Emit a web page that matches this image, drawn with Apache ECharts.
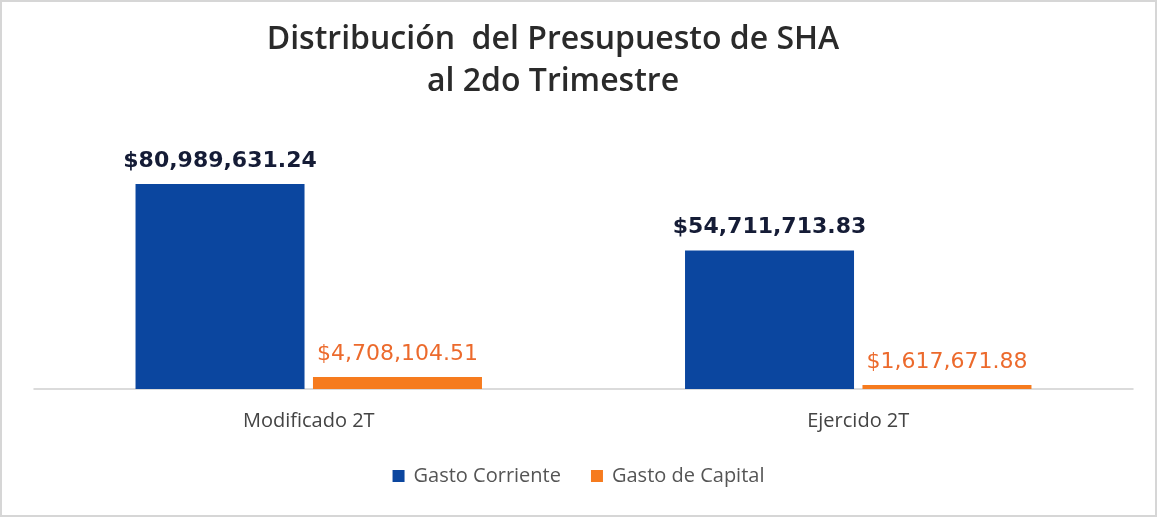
<!DOCTYPE html>
<html>
<head>
<meta charset="utf-8">
<script src="https://cdn.jsdelivr.net/npm/echarts@6/dist/echarts.min.js"></script>
<style>
  html, body { margin: 0; padding: 0; background: #fff; }
  #chart { width: 1157px; height: 517px; box-sizing: border-box; border: 2px solid #d6d6d6; }
</style>
</head>
<body>
<div id="chart"></div>
<script>
const categories = ['Modificado 2T', 'Ejercido 2T']
const gastoCorriente = [80989631.24, 54711713.83]
const gastoCapital = [4708104.51, 1617671.88]

const money = v => '$' + v.toLocaleString('en-US', { minimumFractionDigits: 2, maximumFractionDigits: 2 })

const chart = echarts.init(document.getElementById('chart'))
chart.setOption({
  title: {
    text: 'Distribución  del Presupuesto de SHA\nal 2do Trimestre',
    left: 546,
    textAlign: 'center',
    top: 12,
    textStyle: { fontFamily: 'Open Sans', fontSize: 32, fontWeight: 600, color: '#2a2a2a', lineHeight: 42 }
  },
  legend: {
    bottom: 24,
    left: 'center',
    itemWidth: 12,
    itemHeight: 12,
    itemGap: 30,
    icon: 'rect',
    textStyle: { fontFamily: 'Open Sans', fontSize: 20, color: '#555', padding: [0, 0, 0, 4] },
    data: ['Gasto Corriente', 'Gasto de Capital']
  },
  grid: { left: 32, right: 22, top: 134, bottom: 126 },
  xAxis: {
    type: 'category',
    data: categories,
    axisLine: { lineStyle: { color: '#d0d0d0', width: 1.5 } },
    axisTick: { show: false },
    axisLabel: { fontFamily: 'Open Sans', fontSize: 20, color: '#444', margin: 22 }
  },
  yAxis: { type: 'value', min: 0, max: 100000000, show: false, splitLine: { show: false } },
  series: [
    {
      name: 'Gasto Corriente',
      type: 'bar',
      data: gastoCorriente,
      barWidth: 169,
      barGap: '5%',
      itemStyle: { color: '#0b469f' },
      label: {
        show: true, position: 'top', distance: 12,
        formatter: p => money(p.value),
        fontFamily: 'DejaVu Sans', fontWeight: 'bold', fontSize: 22, color: '#151c36'
      }
    },
    {
      name: 'Gasto de Capital',
      type: 'bar',
      data: gastoCapital,
      barWidth: 169,
      itemStyle: { color: '#f67b1e' },
      label: {
        show: true, position: 'top', distance: 12,
        formatter: p => money(p.value),
        fontFamily: 'DejaVu Sans', fontSize: 22, color: '#ec6a2c'
      }
    }
  ]
})
</script>
</body>
</html>
